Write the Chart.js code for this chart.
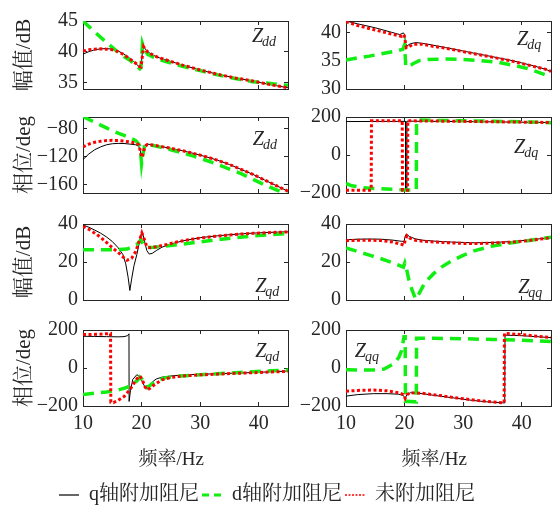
<!DOCTYPE html>
<html>
<head>
<meta charset="utf-8">
<script src="https://cdn.jsdelivr.net/npm/chart.js@4.4.0/dist/chart.umd.min.js"></script>
<style>
html,body{margin:0;padding:0;background:#fff;}
#wrap{position:relative;width:555px;height:506px;overflow:hidden;background:#fff;}
#wrap canvas{position:absolute;left:0;top:0;}
</style>
</head>
<body>
<div id="wrap"></div>
<script>
// ---------------- DATA ----------------
const xTicks = [10, 20, 30, 40];
const xRange = [10, 45];
const xTitle = '频率/Hz';
const seriesNames = ['q轴附加阻尼', 'd轴附加阻尼', '未附加阻尼'];

// Z_dd magnitude (dB)
const zddMagTicks = [35, 40, 45];
const zddMagRange = [33.9, 45];
const zddMagQ = [[10,39.6],[11,40.0],[12,40.3],[13,40.45],[14,40.5],[15,40.4],[16,40.1],[17,39.6],[18,38.9],[19,38.1],[19.6,37.5],[19.85,37.3],[20.0,38.5],[20.25,41.0],[20.5,40.6],[21,40.0],[22,39.4],[23,39.0],[24,38.7],[25,38.4],[27,37.8],[30,37.0],[33,36.3],[36,35.7],[39,35.2],[42,34.6],[45,34.1]];
const zddMagD = [[10,45.0],[12,43.2],[14,41.5],[16,39.9],[17,39.2],[18,38.6],[19,37.8],[19.7,37.2],[19.9,37.4],[20.15,41.3],[20.4,40.6],[21,39.6],[22,39.1],[24,38.4],[27,37.6],[30,36.9],[33,36.2],[36,35.6],[39,35.1],[42,34.8],[45,34.5]];
const zddMagN = [[10,40.1],[11,40.3],[12,40.4],[13,40.45],[14,40.4],[15,40.3],[16,40.0],[17,39.5],[18,38.8],[19,38.1],[19.6,37.6],[19.9,37.5],[20.1,39.0],[20.35,40.8],[20.6,40.4],[21,40.0],[22,39.4],[23,39.0],[25,38.4],[27,37.8],[30,37.0],[33,36.3],[36,35.7],[39,35.2],[42,34.6],[45,34.1]];

// Z_dd phase (deg)
const zddPhTicks = [-160, -120, -80];
const zddPhRange = [-171.5, -63.5];
const zddPhQ = [[10,-124],[11,-116],[12,-110],[13,-106],[14,-103],[15,-101.5],[16,-101],[17,-101.2],[18,-102],[19,-103],[19.5,-105],[19.8,-112],[20.0,-120],[20.2,-115],[20.5,-105],[20.8,-102],[21.5,-102.5],[23,-105],[25,-108],[27,-111.5],[29,-115.5],[31,-120],[33,-125],[35,-131],[37,-138],[39,-145],[41,-153],[43,-161],[45,-169]];
const zddPhD = [[10,-63],[11,-67],[12,-71],[13,-75],[14,-79],[15,-83],[16,-86.5],[17,-89.5],[18,-93],[19,-97],[19.6,-103],[19.85,-115],[20.0,-130],[20.2,-118],[20.5,-105],[20.8,-102],[21.5,-103],[23,-106],[25,-110],[27,-114.5],[29,-119.5],[31,-125],[33,-131],[35,-137.5],[37,-144],[39,-152],[41,-160],[43,-167],[45,-174]];
const zddPhN = [[10,-106],[11,-102],[12,-99.5],[13,-98],[14,-97],[15,-96.7],[16,-97],[17,-97.8],[18,-99],[19,-100.5],[19.5,-103],[19.8,-112],[20.05,-121],[20.3,-114],[20.6,-105],[21,-102.5],[22,-103.5],[23,-105],[25,-108],[27,-111.5],[29,-115.5],[31,-120],[33,-125],[35,-131],[37,-138],[39,-145],[41,-153],[43,-161],[45,-169]];

// Z_dq magnitude (dB)
const zdqMagTicks = [30, 35, 40];
const zdqMagRange = [30, 42];
const zdqMagQ = [[10,42.0],[12,41.5],[15,40.8],[17.8,40.0],[19.2,39.6],[19.8,39.9],[20.0,39.6],[20.2,38.0],[20.4,37.6],[21,38.0],[22,38.2],[24,37.9],[27,37.3],[30,36.7],[33,36.1],[36,35.5],[38,35.1],[40,34.6],[42,34.1],[44,33.5],[45,33.1]];
const zdqMagD = [[10,35.1],[12,35.5],[14,35.8],[16,36.2],[18,36.6],[19.7,37.0],[20.0,37.8],[20.2,34.2],[20.5,33.8],[21.5,34.5],[22.5,35.0],[24,35.2],[27,35.3],[30,35.2],[33,35.0],[36,34.7],[39,34.1],[41,33.6],[43,32.9],[45,32.1]];
const zdqMagN = [[10,41.9],[12,41.2],[15,40.4],[17.8,39.7],[19.5,39.3],[19.9,39.6],[20.1,38.5],[20.3,37.3],[20.8,37.5],[21.5,37.9],[23,37.9],[25,37.5],[27,37.2],[30,36.6],[33,36.0],[36,35.4],[38,35.0],[40,34.5],[42,34.0],[44,33.5],[45,33.1]];

// Z_dq phase (deg)
const zdqPhTicks = [-200, 0, 200];
const zdqPhRange = [-200, 200];
const zdqPhQ = [[10,176],[20.15,177],[20.2,-185],[20.35,-180],[20.4,178],[30,176],[45,171]];
const zdqPhD = [[10,-150],[11,-162],[13,-172],[16,-178],[19,-182],[20,-184],[22.0,-184],[22.05,185],[25,182],[30,180],[35,178],[40,175],[45,170]];
const zdqPhN = [[10,-185],[14.3,-185],[14.35,180],[19.6,180],[19.65,-185],[20.5,-185],[20.55,180],[30,177],[45,171]];

// Z_qd magnitude (dB)
const zqdMagTicks = [0, 20, 40];
const zqdMagRange = [0, 40];
const zqdMagQ = [[10,39.5],[11,38.3],[12,36.8],[13,35.2],[14,33.2],[15,30.8],[16,27.5],[16.8,24],[17.3,19],[17.7,12],[18.0,5],[18.3,11],[18.7,18],[19.2,24],[19.6,30],[19.9,34.5],[20.15,35.5],[20.5,31],[20.9,26],[21.3,24.2],[21.8,24.5],[22.5,26],[23.5,27.8],[25,29.5],[27,31.1],[30,32.8],[33,33.8],[36,34.6],[39,35.2],[42,35.6],[45,35.9]];
const zqdMagD = [[10,26.5],[12,26.4],[14,26.4],[16,26.5],[17.5,26.8],[18.5,28],[19.3,29.5],[19.9,31.5],[20.3,29],[20.7,27.6],[22,27.8],[24,28.3],[27,29.4],[30,30.6],[33,31.8],[36,32.8],[39,33.7],[42,34.4],[45,35.0]];
const zqdMagN = [[10,38.8],[11,37.2],[12,35.2],[13,33],[14,30.3],[15,27.5],[16,25],[17,22.2],[17.5,20.9],[18.3,22],[19.0,25.5],[19.6,31],[20.05,35.3],[20.4,32.5],[20.9,28],[21.5,27.5],[22.5,28],[24,29],[26,30.5],[28,31.7],[30,32.6],[33,33.7],[36,34.5],[39,35.1],[42,35.5],[45,35.8]];

// Z_qd phase (deg)
const zqdPhTicks = [-200, 0, 200];
const zqdPhRange = [-200, 200];
const zqdPhQ = [[10,167],[12,166],[14,165],[16,164],[17,165],[17.6,170],[17.85,180],[17.87,-176],[18.1,-120],[18.5,-60],[19.2,-35],[19.8,-50],[20.4,-90],[20.9,-112],[21.3,-100],[21.9,-72],[22.5,-58],[23.5,-48],[25,-42],[27,-37],[30,-33],[33,-30],[36,-27],[39,-24],[42,-20],[45,-16]];
const zqdPhD = [[10,-139],[12,-133],[14,-126],[16,-116],[17.5,-102],[18.5,-85],[19.2,-68],[19.7,-48],[20.1,-60],[20.6,-95],[21,-103],[21.6,-88],[22.5,-68],[24,-52],[26,-44],[30,-35],[33,-30],[36,-25],[39,-20],[42,-15],[45,-11]];
const zqdPhN = [[10,176],[12,177],[14,180],[14.7,182],[14.75,-180],[15.2,-182],[16,-170],[17,-150],[18,-115],[18.8,-75],[19.4,-48],[19.7,-42],[20.1,-60],[20.6,-100],[21,-115],[21.5,-105],[22.3,-85],[23.5,-62],[25,-50],[27,-42],[30,-36],[33,-32],[36,-28],[39,-25],[42,-21],[45,-18]];

// Z_qq magnitude (dB)
const zqqMagTicks = [0, 20, 40];
const zqqMagRange = [0, 40];
const zqqMagQ = [[10,31.7],[12,32.0],[14,32.1],[16,32.0],[18,31.5],[19.5,30.9],[19.9,30.8],[20.1,33.5],[20.3,34.7],[20.8,33.5],[21.8,32.2],[23,31.5],[25,31],[28,30.5],[32,30.1],[35,30.3],[38,30.7],[41,31.5],[43,32.2],[45,32.9]];
const zqqMagD = [[10,27.4],[12,25.5],[14,23.6],[16,21.7],[18,19.6],[19.8,17.3],[20.05,19.5],[20.3,17],[20.7,11],[21.3,5],[21.9,0.5],[22.5,3.5],[23.5,9.3],[25,14],[26.3,17.3],[28,20.5],[30,23.5],[32,26.0],[35,28.4],[38,30.0],[41,31.2],[43,32.2],[45,33]];
const zqqMagN = [[10,31.2],[12,31.4],[14,31.5],[16,31.3],[18,30.5],[19.6,29.2],[19.9,28.8],[20.15,32],[20.4,33.8],[20.9,32.5],[22,31.3],[24,30.7],[27,30.2],[30,29.8],[33,29.8],[36,30.1],[39,30.6],[42,31.6],[45,32.8]];

// Z_qq phase (deg)
const zqqPhTicks = [-200, 0, 200];
const zqqPhRange = [-200, 200];
const zqqPhQ = [[10,-148],[12,-140],[14.7,-135],[17,-135],[19,-138],[19.8,-145],[20.1,-160],[20.4,-140],[21,-130],[23,-135],[26,-148],[29,-160],[31.7,-171],[34,-178],[37.1,-184],[37.15,173],[40,170],[43,164],[45,160]];
const zqqPhD = [[10,-9],[12,-10],[14.7,-10],[16.5,-5],[18.1,21],[19,55],[19.5,92],[19.9,164],[20.1,164],[20.15,-175],[22.0,-178],[22.05,157],[25,156],[30,154],[35,150],[40,146],[45,140]];
const zqqPhN = [[10,-122],[12,-118],[14.7,-116],[17,-120],[19,-130],[19.8,-140],[20.1,-160],[20.4,-140],[21,-130],[23,-133],[26,-145],[29,-158],[31.7,-168],[34,-176],[37,-184],[37.05,182],[40,176],[43,166],[45,160]];

// ---------------- STYLE / LAYOUT ----------------
const FONT = "'Liberation Serif','Times New Roman','Noto Serif CJK SC','Noto Sans CJK SC',serif";
const W = 555, H = 506;
const FRAME = '#262626';
const COLS = [{left:83, right:288}, {left:346, right:551}];
const ROWS = [{top:13, bottom:89}, {top:117, bottom:193}, {top:224, bottom:300}, {top:330, bottom:406}];

Chart.defaults.font.family = FONT;
Chart.defaults.font.size = 20;
Chart.defaults.color = FRAME;
Chart.defaults.animation = false;

const STY = {
  q: {borderColor:'#000000', borderWidth:1, borderDash:[], order:2},
  d: {borderColor:'#11ee11', borderWidth:3.5, borderDash:[11,7], order:1},
  n: {borderColor:'#ff0000', borderWidth:3, borderDash:[3,2.5], order:0}
};

function toPoints(pairs){ return pairs.map(p => ({x:p[0], y:p[1]})); }
function setTicks(vals){ return s => { s.ticks = vals.map(v => ({value:v})); }; }
const fmt = v => String(v).replace('-', '\u2212');

const zLabel = {
  id: 'zlabel',
  afterDatasetsDraw(chart, args, opts) {
    const {ctx} = chart;
    const px = chart.scales.x.getPixelForValue(opts.x);
    const py = chart.scales.y.getPixelForValue(opts.y);
    ctx.save();
    ctx.fillStyle = FRAME;
    ctx.textAlign = 'left';
    ctx.textBaseline = 'alphabetic';
    ctx.font = 'italic 20px ' + FONT;
    ctx.fillText('Z', px, py);
    const w = ctx.measureText('Z').width;
    ctx.font = 'italic 14px ' + FONT;
    ctx.fillText(opts.sub, px + w - 1, py + 4);
    ctx.restore();
  }
};

const panels = [
  {col:0,row:0, q:zddMagQ, d:zddMagD, n:zddMagN, ticks:zddMagTicks, range:zddMagRange, ytitle:'幅值/dB', sub:'dd', ann:[38.85,41.5]},
  {col:0,row:1, q:zddPhQ,  d:zddPhD,  n:zddPhN,  ticks:zddPhTicks,  range:zddPhRange,  ytitle:'相位/deg', sub:'dd', ann:[39.0,-102.8]},
  {col:1,row:0, q:zdqMagQ, d:zdqMagD, n:zdqMagN, ticks:zdqMagTicks, range:zdqMagRange, ytitle:'', sub:'dq', ann:[39.2,37.7]},
  {col:1,row:1, q:zdqPhQ,  d:zdqPhD,  n:zdqPhN,  ticks:zdqPhTicks,  range:zdqPhRange,  ytitle:'', sub:'dq', ann:[38.7,12]},
  {col:0,row:2, q:zqdMagQ, d:zqdMagD, n:zqdMagN, ticks:zqdMagTicks, range:zqdMagRange, ytitle:'幅值/dB', sub:'qd', ann:[39.4,4.2]},
  {col:0,row:3, q:zqdPhQ,  d:zqdPhD,  n:zqdPhN,  ticks:zqdPhTicks,  range:zqdPhRange,  ytitle:'相位/deg', sub:'qd', ann:[39.4,58]},
  {col:1,row:2, q:zqqMagQ, d:zqqMagD, n:zqqMagN, ticks:zqqMagTicks, range:zqqMagRange, ytitle:'', sub:'qq', ann:[39.4,3.7]},
  {col:1,row:3, q:zqqPhQ,  d:zqqPhD,  n:zqqPhN,  ticks:zqqPhTicks,  range:zqqPhRange,  ytitle:'', sub:'qq', ann:[11.5,58]}
];

const wrap = document.getElementById('wrap');

function newCanvas(offsetTop){
  const c = document.createElement('canvas');
  c.width = W; c.height = H;
  c.style.width = W + 'px'; c.style.height = H + 'px';
  c.style.top = (offsetTop || 0) + 'px';
  wrap.appendChild(c);
  return c;
}

function makePanel(p){
  const canvas = newCanvas(0);
  const col = COLS[p.col], row = ROWS[p.row];
  const bottomRow = p.row === 3;
  const padL = p.col === 0 ? 12 : 282;
  const yw = col.left - padL;
  const xh = bottomRow ? 70 : 0;
  const grid = {drawOnChartArea:false, drawTicks:true, tickLength:-4, color:FRAME, lineWidth:1};
  const border = {display:true, color:FRAME, width:1};
  new Chart(canvas, {
    type: 'line',
    data: {datasets: [
      Object.assign({label:seriesNames[0], data:toPoints(p.q)}, STY.q),
      Object.assign({label:seriesNames[1], data:toPoints(p.d)}, STY.d),
      Object.assign({label:seriesNames[2], data:toPoints(p.n)}, STY.n)
    ]},
    options: {
      responsive:false, animation:false, events:[],
      layout:{padding:{left:padL, right:W-col.right, top:row.top, bottom:H-row.bottom-xh}},
      elements:{point:{radius:0}, line:{tension:0, fill:false, borderCapStyle:'butt'}},
      plugins:{legend:{display:false}, tooltip:{enabled:false}, zlabel:{x:p.ann[0], y:p.ann[1], sub:p.sub}},
      scales:{
        x:{type:'linear', position:'bottom', min:xRange[0], max:xRange[1], grid:grid, border:border,
           ticks:{display:bottomRow, padding:10, callback:fmt, maxRotation:0, autoSkip:false},
           title:{display:bottomRow, text:xTitle + '      ', font:{size:19}, padding:{top:0, bottom:5}},
           afterBuildTicks:setTicks(xTicks), afterFit:s => { s.height = xh; }},
        x2:{type:'linear', position:'top', min:xRange[0], max:xRange[1], grid:grid, border:border,
           ticks:{display:false}, afterBuildTicks:setTicks(xTicks), afterFit:s => { s.height = 0; }},
        y:{type:'linear', position:'left', min:p.range[0], max:p.range[1], grid:grid, border:border,
           ticks:{padding:9, callback:fmt, autoSkip:false},
           title:{display:!!p.ytitle, text:p.ytitle, font:{size:21}, padding:{top:0, bottom:0}},
           afterBuildTicks:setTicks(p.ticks), afterFit:s => { s.width = yw; }},
        y2:{type:'linear', position:'right', min:p.range[0], max:p.range[1], grid:grid, border:border,
           ticks:{display:false}, afterBuildTicks:setTicks(p.ticks), afterFit:s => { s.width = 0; }}
      }
    },
    plugins:[zLabel]
  });
}

panels.forEach(makePanel);

// legend (canvas shifted down so the legend row sits at the reference height)
(function(){
  const canvas = newCanvas(9);
  new Chart(canvas, {
    type:'line',
    data:{datasets:[
      {label:seriesNames[0], data:[], borderColor:'#000000', borderWidth:1.2, borderDash:[]},
      {label:seriesNames[1], data:[], borderColor:'#11ee11', borderWidth:3, borderDash:[7,5]},
      {label:seriesNames[2], data:[], borderColor:'#ff0000', borderWidth:1.5, borderDash:[2,1.5]}
    ]},
    options:{
      responsive:false, animation:false, events:[],
      layout:{padding:{left:0, right:21, top:0, bottom:0}},
      scales:{x:{display:false}, y:{display:false}},
      plugins:{
        tooltip:{enabled:false},
        legend:{display:true, position:'bottom', align:'center',
          labels:{usePointStyle:true, pointStyle:'line', pointStyleWidth:20, padding:3,
            font:{size:20, family:FONT}, color:FRAME,
            generateLabels: chart => chart.data.datasets.map((ds, i) => ({
              text: ds.label, strokeStyle: ds.borderColor, fillStyle: ds.borderColor,
              lineWidth: ds.borderWidth, lineDash: ds.borderDash, lineCap:'butt',
              pointStyle:'line', hidden:false, datasetIndex:i, fontColor:FRAME
            }))
          }
        }
      }
    }
  });
})();
</script>
</body>
</html>
